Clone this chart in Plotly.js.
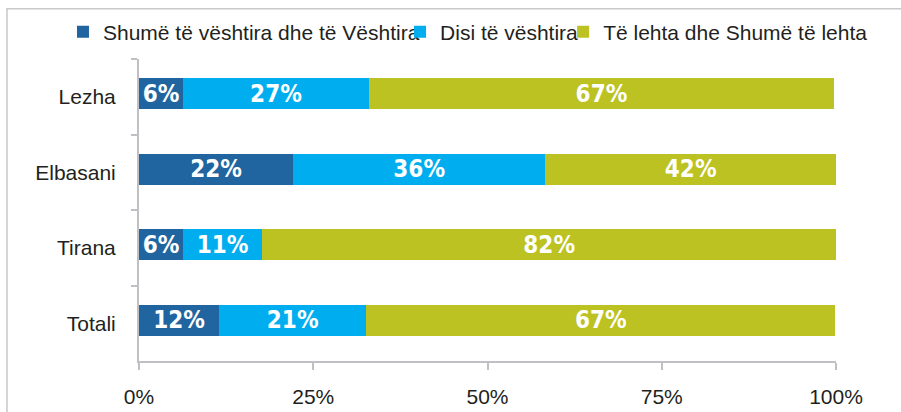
<!DOCTYPE html>
<html>
<head>
<meta charset="utf-8">
<script src="https://cdn.plot.ly/plotly-3.0.1.min.js"></script>
<style>html,body{margin:0;padding:0;background:#fff;}#chart{width:901px;height:412px;}</style>
</head>
<body>
<div id="chart"></div>
<script>
const categories = ["Lezha", "Elbasani", "Tirana", "Totali"];
const seriesNames = ["Shumë të vështira dhe të Vështira", "Disi të vështira", "Të lehta dhe Shumë të lehta"];
// bar lengths (percent of respondents)
const veryHard = [6.3, 22.1, 6.3, 11.5];
const somewhatHard = [26.7, 36.2, 11.4, 21.1];
const easy = [66.7, 41.7, 82.3, 67.3];
// printed labels
const veryHardLabels = ["6%", "22%", "6%", "12%"];
const somewhatHardLabels = ["27%", "36%", "11%", "21%"];
const easyLabels = ["67%", "42%", "82%", "67%"];
const xTickVals = [0, 25, 50, 75, 100];
const xTickText = ["0%", "25%", "50%", "75%", "100%"];
const colors = ["#2165A0", "#00AEEF", "#BBC222"];

const series = [veryHard, somewhatHard, easy];
const labels = [veryHardLabels, somewhatHardLabels, easyLabels];
const legendIds = ["legend", "legend2", "legend3"];
const traces = series.map((vals, i) => ({
  type: "bar",
  orientation: "h",
  name: seriesNames[i],
  legend: legendIds[i],
  y: categories,
  x: vals,
  width: 0.41,
  offset: -0.245,
  text: labels[i],
  textposition: "inside",
  insidetextanchor: "middle",
  constraintext: "none",
  textfont: {family: "Liberation Sans Narrow, DejaVu Sans Condensed, sans-serif", size: 24, color: "#ffffff", weight: "bold", stretch: "condensed"},
  marker: {color: colors[i], line: {width: 0}},
  hoverinfo: "none"
}));

function legendAt(x) {
  return {
    orientation: "h",
    xref: "container", yref: "container",
    x: x, xanchor: "left",
    y: 0.922, yanchor: "middle",
    font: {size: 21, color: "#231f20"},
    itemwidth: 30,
    bgcolor: "rgba(0,0,0,0)",
    borderwidth: 0
  };
}

const layout = {
  width: 901, height: 412,
  margin: {l: 139, r: 65, t: 59, b: 51, autoexpand: false},
  barmode: "stack",
  paper_bgcolor: "#ffffff",
  plot_bgcolor: "#ffffff",
  font: {family: "Liberation Sans, Arial, Helvetica, sans-serif", size: 21, color: "#231f20"},
  showlegend: true,
  legend: legendAt(0.0699),
  legend2: legendAt(0.444),
  legend3: legendAt(0.625),
  xaxis: {
    range: [0, 100],
    tickvals: xTickVals,
    ticktext: xTickText,
    showgrid: false,
    zeroline: false,
    showline: true,
    linecolor: "#c0c0c4",
    linewidth: 2,
    ticks: "outside",
    ticklen: 7,
    tickwidth: 2,
    tickcolor: "#c0c0c4",
    ticklabelstandoff: 9,
    fixedrange: true
  },
  yaxis: {
    type: "category",
    autorange: "reversed",
    showgrid: false,
    zeroline: false,
    showline: true,
    linecolor: "#c0c0c4",
    linewidth: 2,
    ticks: "outside",
    tickson: "boundaries",
    ticklen: 6,
    tickwidth: 2,
    tickcolor: "#c0c0c4",
    ticklabelstandoff: 17,
    fixedrange: true
  },
  shapes: [{
    type: "rect", xref: "paper", yref: "paper",
    x0: -0.1894, x1: 1.3, y0: -0.4, y1: 1.166,
    line: {color: "#c8c8c8", width: 1.5},
    fillcolor: "rgba(0,0,0,0)",
    layer: "below"
  }]
};

Plotly.newPlot("chart", traces, layout, {displayModeBar: false, staticPlot: true});
</script>
</body>
</html>
